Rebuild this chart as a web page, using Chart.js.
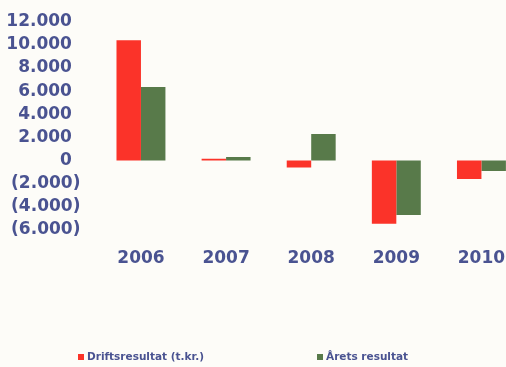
<!DOCTYPE html>
<html>
<head>
<meta charset="utf-8">
<script src="https://cdn.jsdelivr.net/npm/chart.js@4"></script>
<style>
  html, body { margin: 0; padding: 0; background: #fdfcf8; overflow: hidden; }
  .wrap { width: 525px; height: 367px; }
</style>
</head>
<body>
<div class="wrap"><canvas class="js-chart" width="525" height="367"></canvas></div>
<script>
(function () {

  const years = ['2006', '2007', '2008', '2009', '2010'];
  const driftsresultat = [10400, 150, -600, -5450, -1600];
  const aretsResultat = [6350, 300, 2300, -4700, -900];
  const yTicks = [12000, 10000, 8000, 6000, 4000, 2000, 0, -2000, -4000, -6000];

  const textColor = '#4a5391';
  const red = '#fb3329';
  const green = '#587a4a';

  // danish format: 12.000, negatives in brackets
  const fmt = (v) => {
    const s = Math.abs(v).toString().replace(/\B(?=(\d{3})+(?!\d))/g, '.');
    return v < 0 ? '(' + s + ')' : s + '\u2002';
  };

  // legend drawn by hand, items sit far apart in the original
  const legendX = [78, 317];
  const bottomLegend = {
    id: 'bottomLegend',
    afterDraw(chart) {
      const ctx = chart.ctx;
      ctx.save();
      ctx.font = 'bold 10.5px "DejaVu Sans"';
      ctx.textBaseline = 'middle';
      chart.data.datasets.forEach((ds, i) => {
        const x = legendX[i];
        const y = 357;
        ctx.fillStyle = ds.backgroundColor;
        ctx.fillRect(x, y - 3, 6, 6);
        ctx.fillStyle = textColor;
        ctx.fillText(ds.label, x + 9, y);
      });
      ctx.restore();
    }
  };

  const data = {
    labels: years,
    datasets: [
      {
        label: 'Driftsresultat (t.kr.)',
        data: driftsresultat,
        backgroundColor: red,
      },
      {
        label: 'Årets resultat',
        data: aretsResultat,
        backgroundColor: green,
      }
    ]
  };

  const config = {
    type: 'bar',
    data: data,
    plugins: [bottomLegend],
    options: {
      responsive: false,
      animation: false,
      datasets: {
        bar: {
          barPercentage: 1,
          categoryPercentage: 0.575
        }
      },
      plugins: {
        legend: { display: false },
        tooltip: { enabled: false }
      },
      layout: {
        padding: { left: 0, right: 1, top: 21.7, bottom: 80.6 }
      },
      scales: {
        x: {
          grid: { display: false, drawTicks: false },
          border: { display: false },
          ticks: {
            color: textColor,
            padding: 18,
            font: { family: 'DejaVu Sans', size: 17, weight: 'bold' }
          }
        },
        y: {
          min: -6000,
          max: 12000,
          grid: { display: false, drawTicks: false },
          border: { display: false },
          afterBuildTicks: (axis) => {
            axis.ticks = yTicks.map(v => ({ value: v }));
          },
          afterFit: (axis) => {
            axis.width = 98.4;
            axis.paddingTop = 0;
            axis.paddingBottom = 0;
          },
          ticks: {
            autoSkip: false,
            color: textColor,
            padding: 18,
            font: { family: 'DejaVu Sans', size: 17, weight: 'bold' },
            callback: (v) => fmt(v)
          }
        }
      }
    }
  };

  new Chart(document.querySelector('.js-chart'), config);

})();
</script>
</body>
</html>
